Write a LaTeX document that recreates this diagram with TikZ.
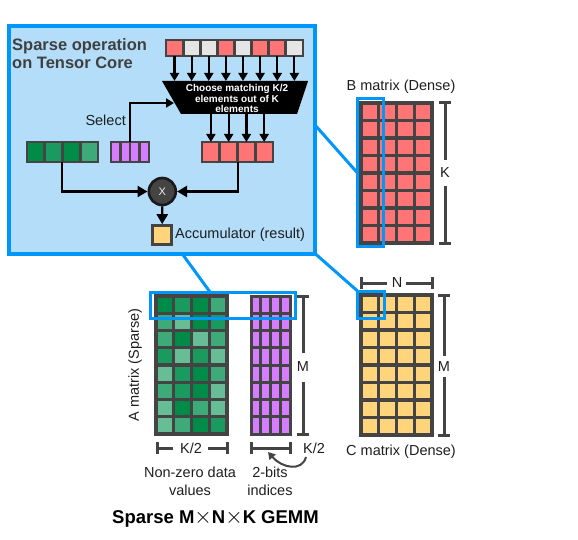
\documentclass[tikz,border=0pt]{standalone}
\usepackage{fontspec}
\setmainfont{Liberation Sans}
\usetikzlibrary{arrows.meta}
\definecolor{bluebd}{RGB}{0,150,250}
\definecolor{bluefill}{RGB}{180,221,250}
\definecolor{redc}{RGB}{255,116,116}
\definecolor{grayc}{RGB}{229,229,229}
\definecolor{purc}{RGB}{214,124,255}
\definecolor{yelc}{RGB}{255,212,122}
\definecolor{gD}{RGB}{0,140,72}
\definecolor{gM}{RGB}{26,154,94}
\definecolor{gL}{RGB}{62,170,122}
\definecolor{gX}{RGB}{102,189,150}
\definecolor{edge}{RGB}{68,68,68}
\definecolor{txt}{RGB}{30,30,30}
\definecolor{ttl}{RGB}{64,64,64}
\tikzset{
  cell/.style={draw=edge, line width=3.3pt},
  flow/.style={draw=black, line width=2.2pt, -{Triangle[width=9pt,length=8pt]}},
  bigflow/.style={draw=black, line width=2.4pt, -{Triangle[width=11pt,length=10pt]}},
  conn/.style={draw=bluebd, line width=3pt},
  hilite/.style={draw=bluebd, line width=3pt},
  dim/.style={draw=edge, line width=3pt},
  lab/.style={font=\fontsize{14.5}{18}\selectfont, text=txt, inner sep=0pt},
}
\newcommand{\bigtimes}{\raisebox{0.5pt}{\scalebox{1.3}{$\times$}}}
\begin{document}
\begin{tikzpicture}[x=1pt,y=-1pt]
\useasboundingbox (0,0) rectangle (578,540);

% ---------- zoom box ----------
\draw[draw=bluebd, fill=bluefill, line width=4pt] (9,26) rectangle (315,253.5);
\coordinate (boxR) at (315,125);
\coordinate (boxBR) at (315,253.5);
\coordinate (boxB) at (182,253.5);

\node[anchor=west, align=left, font=\fontsize{16.5}{18}\selectfont\bfseries, text=ttl, inner sep=0pt] (title) at (12,54) {Sparse operation\\on Tensor Core};

% top row of 8
\foreach \c [count=\i from 0] in {redc,grayc,grayc,redc,grayc,redc,redc,grayc}
  \draw[cell, line width=2.8pt, fill=\c] (166+\i*17.125,40) rectangle ++(17.125,16);

% trapezoid selector
\fill[black] (162,81) -- (308,81) -- (297,114) -- (181,114) -- cycle;
\node[align=center, text=white, font=\fontsize{10}{10.2}\selectfont\bfseries, inner sep=0pt] (sel) at (237,98.5) {Choose matching K/2\\elements out of K\\elements};

\foreach \i in {0,...,7}
  \draw[flow] (174.5+\i*17.125,56) -- (174.5+\i*17.125,81);

% rows inside box
\foreach \c [count=\i from 0] in {gD,gM,gD,gL}
  \draw[cell, line width=2.8pt, fill=\c] (27+\i*17.75,142) rectangle ++(17.75,20);
\foreach \i in {0,...,3}
  \draw[cell, line width=2.8pt, fill=purc] (111+\i*9.5,142) rectangle ++(9.5,20);
\foreach \i in {0,...,3}
  \draw[cell, line width=2.8pt, fill=redc] (202+\i*17.75,142) rectangle ++(17.75,20);
\coordinate (grn) at (62,162);
\coordinate (pur) at (130,142);
\coordinate (red) at (238,162);

\foreach \i in {0,...,3}
  \draw[flow] (210.9+\i*17.75,114) -- (210.9+\i*17.75,142);

\node[lab, anchor=east] (selectlab) at (126,120) {Select};
\draw[flow] (pur) -- (130,103) -- (174,103);

% multiply
\node[circle, draw=black!90, fill=edge, line width=2.6pt, minimum size=27pt, inner sep=0pt, text=white!85!gray, font=\fontsize{11}{11}\selectfont] (mul) at (162.3,191.5) {X};
\draw[bigflow] (grn) |- (mul.west);
\draw[bigflow] (red) |- (mul.east);

\node[draw=edge, line width=2.6pt, fill=yelc, minimum size=19pt, inner sep=0pt] (acc) at (162.2,235) {};
\draw[bigflow] (mul.south) -- (acc.north);
\node[lab, anchor=west] (acclab) at (175,235) {Accumulator (result)};

% ---------- B matrix ----------
\foreach \i in {0,...,3}
  \foreach \j in {0,...,7}
    \draw[cell, fill=redc] (361+\i*17.75,103+\j*17.5) rectangle ++(17.75,17.5);
\node[lab] (blab) at (401,87) {B matrix (Dense)};
\draw[dim] (439,103) -- (451,103) (445,103) -- (445,160) (445,186) -- (445,243) (439,243) -- (451,243);
\node[lab] (klab) at (445,173) {K};
\draw[hilite] (357.5,98.5) rectangle (383.5,246);
\coordinate (bhl) at (357.5,173);

% ---------- C matrix ----------
\foreach \i in {0,...,3}
  \foreach \j in {0,...,7}
    \draw[cell, fill=yelc] (361+\i*17.75,295+\j*17.5) rectangle ++(17.75,17.5);
\node[lab] (clab) at (401,452) {C matrix (Dense)};
\draw[dim] (361,277) -- (361,289) (361,283) -- (387,283) (406,283) -- (432,283) (432,277) -- (432,289);
\node[lab] (nlab) at (397,283) {N};
\draw[dim] (438,295) -- (450,295) (444,295) -- (444,356) (444,377) -- (444,435) (438,435) -- (450,435);
\node[lab] (mlabc) at (444,367) {M};
\draw[hilite] (357.5,291) rectangle (384.5,318.5);
\coordinate (chl) at (357.5,291);

% ---------- A matrix ----------
\foreach \row [count=\j from 0] in {{gD,gM,gD,gL},{gL,gX,gD,gM},{gL,gD,gX,gL},{gM,gX,gM,gX},{gX,gM,gD,gL},{gL,gM,gD,gX},{gX,gD,gL,gX},{gX,gL,gD,gM}}
  \foreach \c [count=\i from 0] in \row
    \draw[cell, fill=\c] (156+\i*17.75,296+\j*17.25) rectangle ++(17.75,17.25);
\foreach \i in {0,...,3}
  \foreach \j in {0,...,7}
    \draw[cell, line width=3pt, fill=purc] (251+\i*9.75,296+\j*17.25) rectangle ++(9.75,17.25);
\node[lab, rotate=90] (alab) at (135,365) {A matrix (Sparse)};
\draw[dim] (297,296) -- (309,296) (303,296) -- (303,353) (303,382) -- (303,434) (297,434) -- (309,434);
\node[lab] (mlaba) at (303,367) {M};
\draw[dim] (157,442) -- (157,454) (157,448) -- (173,448) (208,448) -- (227,448) (227,442) -- (227,454);
\node[lab] (k2a) at (191,448) {K/2};
\draw[dim] (251,442) -- (251,454) (251,448) -- (290,448) (290,442) -- (290,454);
\coordinate (ibr) at (268,452);
\node[lab] (k2b) at (314,448) {K/2};
\draw[draw=edge, line width=2pt, -{Triangle[width=8pt,length=7pt]}] (306,457) .. controls (302,472) and (282,468) .. (ibr);
\node[lab, align=center] (nzlab) at (190,481) {Non-zero data\\values};
\node[lab, align=center] (idlab) at (270,481) {2-bits\\indices};
\draw[hilite] (150.5,292) rectangle (295,318.5);
\coordinate (ahl) at (210,292);

\node[font=\fontsize{18.5}{22}\selectfont\bfseries, text=black, inner sep=0pt] (gemm) at (215.5,519) {Sparse M\bigtimes N\bigtimes K GEMM};

% ---------- connectors ----------
\draw[conn] (boxR) -- (bhl);
\draw[conn] (boxBR) -- (chl);
\draw[conn] (boxB) -- (ahl);
\end{tikzpicture}
\end{document}
